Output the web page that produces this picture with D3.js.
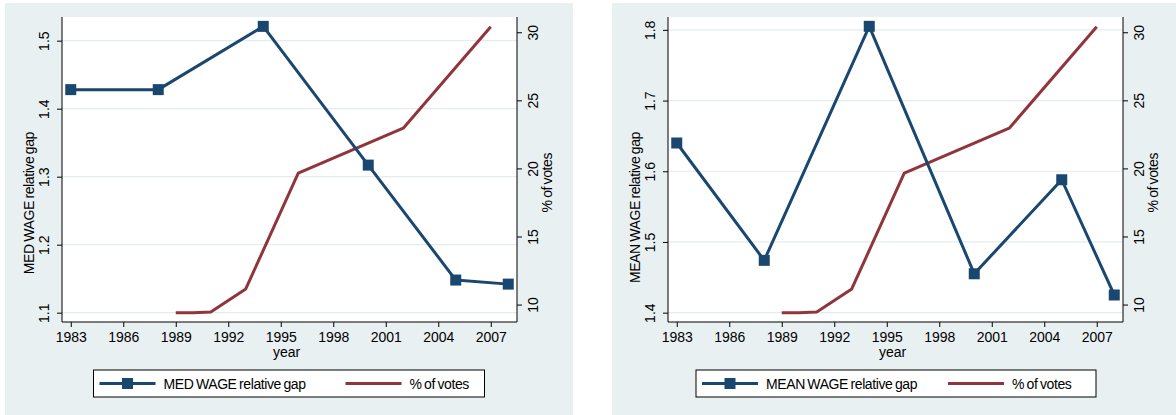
<!DOCTYPE html>
<html><head><meta charset="utf-8">
<script src="https://cdn.jsdelivr.net/npm/d3@7"></script>
<style>
body{margin:0;background:#fff;}
text{font-family:"Liberation Sans",Arial,sans-serif;fill:#000;}
</style></head>
<body><svg id="c" width="1176" height="415"></svg>
<script>
const wageYears = [1983, 1988, 1994, 2000, 2005, 2008];
const medWage = [1.428, 1.428, 1.521, 1.317, 1.148, 1.142];
const meanWage = [1.640, 1.474, 1.805, 1.455, 1.588, 1.425];
const voteYears = [1989, 1990, 1991, 1993, 1996, 2002, 2007];
const votes = [9.4, 9.4, 9.45, 11.15, 19.65, 22.95, 30.4];
const xTicks = [1983, 1986, 1989, 1992, 1995, 1998, 2001, 2004, 2007];
const medTicks = [1.1, 1.2, 1.3, 1.4, 1.5];
const meanTicks = [1.4, 1.5, 1.6, 1.7, 1.8];
const voteTicks = [10, 15, 20, 25, 30];

const BLUE = "#1a476f", RED = "#90353b", BG = "#e9f0f2", GRID = "#e4ecef";
const svg = d3.select("#c");

const panels = [
  {bg:[5,3,573,415], x0:62, x1:517, yDom:[1.0863,1.5348], ticks:medTicks, vals:medWage,
   label:"MED WAGE relative gap", labX:33.5, legend:[93.5,370,484.5,397], legName:"MED WAGE relative gap"},
  {bg:[612,3,1176,415], x0:668, x1:1123, yDom:[1.3868,1.8182], ticks:meanTicks, vals:meanWage,
   label:"MEAN WAGE relative gap", labX:640, legend:[696,370,1096,397], legName:"MEAN WAGE relative gap"}
];
const plotTop = 17, plotBottom = 322;
const LS = -0.4, WS = -1;

panels.forEach(p => {
  const g = svg.append("g");
  g.append("rect").attr("x",p.bg[0]).attr("y",p.bg[1]).attr("width",p.bg[2]-p.bg[0]).attr("height",p.bg[3]-p.bg[1]).attr("fill",BG);
  g.append("rect").attr("x",p.x0).attr("y",plotTop).attr("width",p.x1-p.x0).attr("height",plotBottom-plotTop).attr("fill","#fff");

  const x = d3.scaleLinear().domain([1982.5,2008.5]).range([p.x0,p.x1]);
  const yL = d3.scaleLinear().domain(p.yDom).range([plotBottom,plotTop]);
  const yR = d3.scaleLinear().domain([8.72,31.12]).range([plotBottom,plotTop]);

  g.selectAll(".grid").data(p.ticks).join("line")
    .attr("x1",p.x0).attr("x2",p.x1).attr("y1",d=>yL(d)).attr("y2",d=>yL(d))
    .attr("stroke",GRID).attr("stroke-width",1.2);

  const axL = g.append("g").attr("transform",`translate(${p.x0},0)`)
    .call(d3.axisLeft(yL).tickValues(p.ticks).tickSize(5).tickFormat(d3.format(".1f")));
  axL.select(".domain").attr("d",`M0,${plotTop}V${plotBottom}`).attr("stroke","#000");
  axL.selectAll(".tick text").attr("font-size",14).attr("x",0).attr("dy",0)
    .attr("transform","translate(-13.5,0) rotate(-90)").attr("text-anchor","middle").attr("fill","#000");

  const axR = g.append("g").attr("transform",`translate(${p.x1},0)`)
    .call(d3.axisRight(yR).tickValues(voteTicks).tickSize(5).tickFormat(d3.format("d")));
  axR.select(".domain").attr("d",`M0,${plotTop}V${plotBottom}`).attr("stroke","#000");
  axR.selectAll(".tick text").attr("font-size",14).attr("x",0).attr("dy",0)
    .attr("transform","translate(20.5,0) rotate(-90)").attr("text-anchor","middle").attr("fill","#000");

  const axB = g.append("g").attr("transform",`translate(0,${plotBottom})`)
    .call(d3.axisBottom(x).tickValues(xTicks).tickSize(5).tickFormat(d3.format("d")));
  axB.select(".domain").attr("d",`M${p.x0},0H${p.x1}`).attr("stroke","#000");
  axB.selectAll(".tick text").attr("font-size",14).attr("y",19.5).attr("dy",0).attr("fill","#000");

  g.append("text").attr("transform",`translate(${p.labX},132) rotate(-90)`).attr("text-anchor","end")
    .attr("font-size",14).attr("letter-spacing",LS).attr("word-spacing",WS).text(p.label);
  g.append("text").attr("transform",`translate(${p.x1+35},153) rotate(-90)`).attr("text-anchor","end")
    .attr("font-size",14).attr("letter-spacing",LS).attr("word-spacing",WS).text("% of votes");
  g.append("text").attr("x",(p.x0+p.x1)/2 - 3).attr("y",357).attr("text-anchor","middle")
    .attr("font-size",14).text("year");

  g.append("path").datum(voteYears.map((yr,i)=>[yr,votes[i]]))
    .attr("d",d3.line().x(d=>x(d[0])).y(d=>yR(d[1])))
    .attr("fill","none").attr("stroke",RED).attr("stroke-width",3).attr("stroke-linejoin","round");

  const wd = wageYears.map((yr,i)=>[yr,p.vals[i]]);
  g.append("path").datum(wd).attr("d",d3.line().x(d=>x(d[0])).y(d=>yL(d[1])))
    .attr("fill","none").attr("stroke",BLUE).attr("stroke-width",3).attr("stroke-linejoin","round");
  g.selectAll(".mk").data(wd).join("rect")
    .attr("x",d=>x(d[0])-5.5).attr("y",d=>yL(d[1])-5.5).attr("width",11).attr("height",11).attr("fill",BLUE);

  const L = p.legend;
  g.append("rect").attr("x",L[0]).attr("y",L[1]).attr("width",L[2]-L[0]).attr("height",L[3]-L[1])
    .attr("fill","#fff").attr("stroke","#000").attr("stroke-width",1);
  const lx = L[0]+6, ly = 383.5;
  g.append("line").attr("x1",lx).attr("x2",lx+56).attr("y1",ly).attr("y2",ly).attr("stroke",BLUE).attr("stroke-width",3);
  g.append("rect").attr("x",lx+28-5.5).attr("y",ly-5.5).attr("width",11).attr("height",11).attr("fill",BLUE);
  g.append("text").attr("x",lx+64).attr("y",389).attr("font-size",14).attr("letter-spacing",LS).attr("word-spacing",WS).text(p.legName);
  const rx = L[0]+252;
  g.append("line").attr("x1",rx).attr("x2",rx+56).attr("y1",ly).attr("y2",ly).attr("stroke",RED).attr("stroke-width",3);
  g.append("text").attr("x",rx+64).attr("y",389).attr("font-size",14).attr("letter-spacing",LS).attr("word-spacing",WS).text("% of votes");
});
</script></body></html>
